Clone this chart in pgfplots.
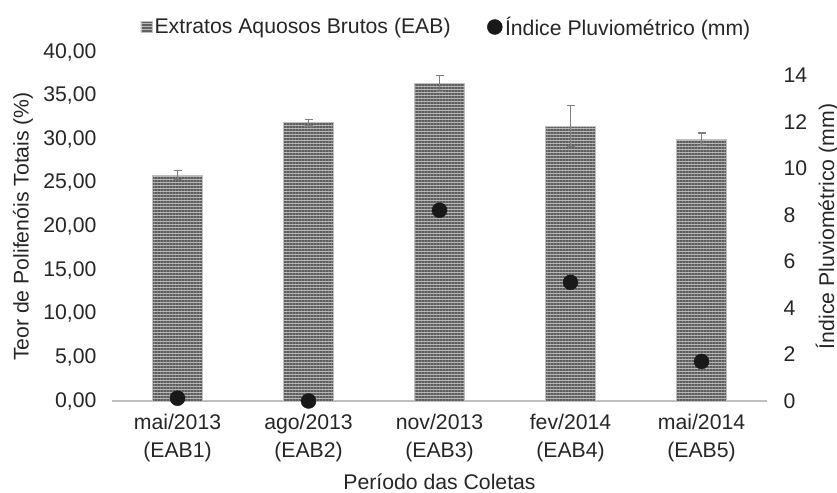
\documentclass[border=0pt]{standalone}
\usepackage{fontspec}
\setmainfont{Liberation Sans}
\usepackage{pgfplots}
\pgfplotsset{compat=1.18}
\usetikzlibrary{patterns.meta}
\definecolor{txt}{HTML}{262626}
\definecolor{base}{HTML}{BFBFBF}
\definecolor{errc}{HTML}{7F7F7F}
\definecolor{barfill}{HTML}{B8B8B8}
\definecolor{barline}{HTML}{5E5E5E}
\newcommand\chf{\fontsize{21.3}{27.3}\selectfont}
\begin{document}
\begin{tikzpicture}[x=1bp,y=1bp,font=\chf]
\useasboundingbox (0,0) rectangle (837,493);
\begin{axis}[
  at={(112bp,92bp)}, anchor=south west,
  scale only axis, width=655bp, height=349bp,
  xmin=-0.5, xmax=4.5, ymin=0, ymax=40,
  axis x line*=bottom, axis y line*=left,
  x axis line style={base, line width=1.4bp},
  y axis line style={draw=none},
  major tick length=0pt,
  xtick={0,1,2,3,4},
  xticklabels={{mai/2013\\(EAB1)},{ago/2013\\(EAB2)},{nov/2013\\(EAB3)},{fev/2014\\(EAB4)},{mai/2014\\(EAB5)}},
  xticklabel style={align=center, font=\chf, text=txt, yshift=-10bp},
  ytick={0,5,...,40},
  scaled y ticks=false,
  yticklabel style={font=\chf, text=txt, xshift=-12bp,
    /pgf/number format/fixed, /pgf/number format/fixed zerofill,
    /pgf/number format/precision=2, /pgf/number format/use comma,
    /pgf/number format/assume math mode=true},
  ylabel={Teor de Polifenóis Totais (\%)},
  ylabel style={at={(axis description cs:-0.136,0.5)}, anchor=center, font=\chf, text=txt},
  xlabel={Período das Coletas},
  xlabel style={at={(axis description cs:0.5,-0.255)}, anchor=base, font=\chf, text=txt},
  legend style={at={(axis description cs:0.0435,1.0716)}, anchor=west, draw=none, fill=none,
    inner sep=0pt, font=\chf, text=txt, legend columns=2,
    /tikz/every even column/.append style={column sep=34bp},
    nodes={inner sep=2.5bp}},
]
\addplot[ybar, bar width=50bp, draw=base, fill=barfill,
  postaction={pattern={Lines[angle=0,distance=3bp,line width=1.5bp]}, pattern color=barline},
  legend image code/.code={\draw[base, fill=barfill, postaction={pattern={Lines[angle=0,distance=3bp,line width=1.5bp]}, pattern color=barline}] (0bp,-5.5bp) rectangle (11bp,5.5bp);},
  error bars/.cd, y dir=both, y explicit,
  error bar style={errc, line width=1.3bp},
  error mark options={rotate=90, errc, mark size=4bp, line width=1.3bp},
  ]
  coordinates {(0,25.9) +- (0,0.55) (1,31.9) +- (0,0.38) (2,36.4) +- (0,0.9) (3,31.5) +- (0,2.35) (4,30.0) +- (0,0.7)};
\addlegendentry{Extratos Aquosos Brutos (EAB)}
\addlegendimage{legend image code/.code={\fill[black!90] (7.5bp,0bp) circle (7.5bp);}}
\addlegendentry{Índice Pluviométrico (mm)}
\end{axis}
\begin{axis}[
  at={(112bp,92bp)}, anchor=south west,
  scale only axis, width=655bp, height=349bp,
  xmin=-0.5, xmax=4.5, ymin=0, ymax=15,
  axis x line=none, axis y line*=right,
  y axis line style={draw=none},
  major tick length=0pt,
  ytick={0,2,...,14},
  yticklabel style={font=\chf, text=txt, xshift=13bp, /pgf/number format/assume math mode=true},
  ylabel={Índice Pluviométrico (mm)},
  ylabel style={at={(axis description cs:1.0916,0.5)}, anchor=center, font=\chf, text=txt},
  clip=false,
]
\addplot[only marks, mark=*, mark size=7.5bp, black!90, mark options={fill=black!90, draw=black!90}]
  coordinates {(0,0.12) (1,0) (2,8.2) (3,5.1) (4,1.7)};
\end{axis}
\end{tikzpicture}
\end{document}
